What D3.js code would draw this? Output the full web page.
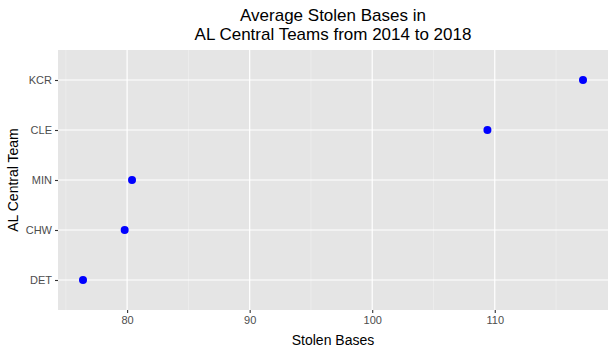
<!DOCTYPE html>
<html>
<head>
<meta charset="utf-8">
<script src="https://cdn.jsdelivr.net/npm/d3@7"></script>
<style>
  body { margin: 0; background: #fff; }
  svg { font-family: "Liberation Sans", Arial, sans-serif; }
</style>
</head>
<body>
<svg id="chart"></svg>
<script>
var teams = ["DET", "CHW", "MIN", "CLE", "KCR"];
var stolenBases = [76.4, 79.8, 80.4, 109.4, 117.2];
var xTicks = [80, 90, 100, 110];
var xMinor = [75, 85, 95, 105, 115];

var w = 614, h = 353;
var padLeft = 58, padRight = 608, padTop = 50, padBottom = 310;

var svg = d3.select("#chart").attr("width", w).attr("height", h);

var ext = d3.extent(stolenBases);
var pad = (ext[1] - ext[0]) * 0.05;
var x = d3.scaleLinear().domain([ext[0] - pad, ext[1] + pad]).range([padLeft, padRight]);
var y = d3.scalePoint().domain(teams).range([padBottom, padTop]).padding(0.6);

svg.append("rect")
  .attr("x", padLeft).attr("y", padTop)
  .attr("width", padRight - padLeft).attr("height", padBottom - padTop)
  .attr("fill", "#e5e5e5");

// minor grid
svg.selectAll(".minor")
  .data(xMinor)
  .enter().append("line")
    .attr("x1", function(d){ return x(d); })
    .attr("x2", function(d){ return x(d); })
    .attr("y1", padTop).attr("y2", padBottom)
    .attr("stroke", "#f2f2f2").attr("stroke-width", 0.6);

// major grid
svg.selectAll(".vmajor")
  .data(xTicks)
  .enter().append("line")
    .attr("x1", function(d){ return x(d); })
    .attr("x2", function(d){ return x(d); })
    .attr("y1", padTop).attr("y2", padBottom)
    .attr("stroke", "#fff").attr("stroke-width", 1.2);

svg.selectAll(".hmajor")
  .data(teams)
  .enter().append("line")
    .attr("x1", padLeft).attr("x2", padRight)
    .attr("y1", function(d){ return y(d); })
    .attr("y2", function(d){ return y(d); })
    .attr("stroke", "#fff").attr("stroke-width", 1.2);

// axes
var xAxis = d3.axisBottom(x).tickValues(xTicks).tickSize(3).tickPadding(3);
var gx = svg.append("g").attr("transform", "translate(0," + padBottom + ")").call(xAxis);
gx.select(".domain").remove();
gx.selectAll("line").attr("stroke", "#333").attr("stroke-width", 1.1);
gx.selectAll("text").attr("fill", "#4d4d4d").style("font-size", "11px");

var yAxis = d3.axisLeft(y).tickSize(3).tickPadding(3);
var gy = svg.append("g").attr("transform", "translate(" + padLeft + ",0)").call(yAxis);
gy.select(".domain").remove();
gy.selectAll("line").attr("stroke", "#333").attr("stroke-width", 1.1);
gy.selectAll("text").attr("fill", "#4d4d4d").style("font-size", "11px");

// points
svg.selectAll("circle")
  .data(teams)
  .enter().append("circle")
    .attr("cx", function(d, i){ return x(stolenBases[i]); })
    .attr("cy", function(d){ return y(d); })
    .attr("r", 4)
    .attr("fill", "#0000ff");

// titles
var cx = (padLeft + padRight) / 2;
svg.append("text").attr("x", cx).attr("y", 21).attr("text-anchor", "middle")
  .style("font-size", "17px").attr("fill", "#000").text("Average Stolen Bases in");
svg.append("text").attr("x", cx).attr("y", 40).attr("text-anchor", "middle")
  .style("font-size", "17px").attr("fill", "#000").text("AL Central Teams from 2014 to 2018");

svg.append("text").attr("x", cx).attr("y", 345).attr("text-anchor", "middle")
  .style("font-size", "14px").attr("fill", "#000").text("Stolen Bases");

svg.append("text")
  .attr("transform", "translate(18," + ((padTop + padBottom) / 2) + ") rotate(-90)")
  .attr("text-anchor", "middle")
  .style("font-size", "14px").attr("fill", "#000").text("AL Central Team");
</script>
</body>
</html>
